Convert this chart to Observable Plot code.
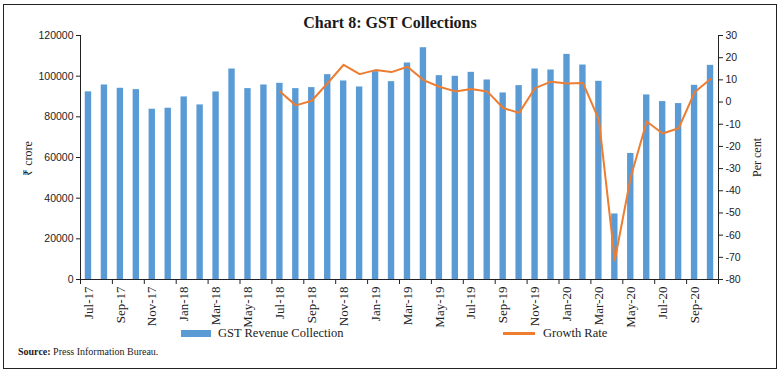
<!DOCTYPE html>
<html><head><meta charset="utf-8">
<script src="https://cdn.jsdelivr.net/npm/d3@7"></script>
<script src="https://cdn.jsdelivr.net/npm/@observablehq/plot@0.6"></script>
<style>
body{margin:0;background:#fff;}
#wrap{position:relative;width:780px;height:372px;overflow:hidden;background:#fff;}
.abs{position:absolute;}
#border{left:3px;top:4px;width:774px;height:365px;border:1px solid #222;box-sizing:border-box;}
#title{left:0;top:14px;width:780px;text-align:center;font:bold 16px "Liberation Serif",serif;color:#1a1a1a;}
.ytitle{font:12px "Liberation Serif",serif;color:#222;transform:rotate(-90deg);transform-origin:center center;white-space:nowrap;width:80px;text-align:center;}
#lt{left:-13px;top:150px;}
#rt{left:717px;top:150px;}
.leg{font:12.5px "Liberation Serif",serif;color:#222;white-space:nowrap;}
#sw1{left:181px;top:330px;width:30px;height:7px;background:#5B9BD5;}
#lg1{left:218px;top:326px;}
#sw2{left:503px;top:332px;width:32px;height:3px;background:#ED7D31;}
#lg2{left:543px;top:326px;}
#src{left:18px;top:346px;font:10px "Liberation Serif",serif;color:#222;white-space:nowrap;}
#p1,#p2{left:0;top:0;}
</style></head><body>
<div id="wrap">
  <div id="p1" class="abs"></div>
  <div id="p2" class="abs"></div>
  <div id="border" class="abs"></div>
  <div id="title" class="abs">Chart 8: GST Collections</div>
  <div id="lt" class="abs ytitle">₹ crore</div>
  <div id="rt" class="abs ytitle">Per cent</div>
  <div id="sw1" class="abs"></div>
  <div id="lg1" class="abs leg">GST Revenue Collection</div>
  <div id="sw2" class="abs"></div>
  <div id="lg2" class="abs leg">Growth Rate</div>
  <div id="src" class="abs"><b>Source:</b> Press Information Bureau.</div>
</div>
<script>
const months = ["Jul-17","Aug-17","Sep-17","Oct-17","Nov-17","Dec-17",
  "Jan-18","Feb-18","Mar-18","Apr-18","May-18","Jun-18","Jul-18","Aug-18","Sep-18","Oct-18","Nov-18","Dec-18",
  "Jan-19","Feb-19","Mar-19","Apr-19","May-19","Jun-19","Jul-19","Aug-19","Sep-19","Oct-19","Nov-19","Dec-19",
  "Jan-20","Feb-20","Mar-20","Apr-20","May-20","Jun-20","Jul-20","Aug-20","Sep-20","Oct-20"];
const gstRevenue = [92280, 95670, 94040, 93390, 83740, 84230, 89790, 85860, 92240, 103520, 93880, 95670,
  96490, 93880, 94370, 100740, 97640, 94690, 102210, 97310, 106470, 113990, 100250, 99930,
  101890, 98130, 91750, 95350, 103520, 103030, 110720, 105480, 97470, 32240, 61990, 90770,
  87500, 86520, 95510, 105320];
const growthMonths = months.slice(12);
const growthRate = [4.8, -1.5, 0.6, 8.6, 16.8, 12.6, 14.4, 13.5, 15.9, 9.9, 6.9, 4.8, 5.9, 4.8,
  -2.7, -4.9, 6.3, 9.2, 8.4, 8.6, -7.9, -71.3, -33.8, -8.8, -14.2, -11.8, 4.4, 10.4];
const leftTicks = [0, 20000, 40000, 60000, 80000, 100000, 120000];
const rightTicks = [-80, -70, -60, -50, -40, -30, -20, -10, 0, 10, 20, 30];
const labeledMonths = months.filter((d, i) => i % 2 === 0);

const W = 780, H = 372, ML = 80, MR = 62, MT = 35, MB = 93;
const halfStep = (W - ML - MR) / months.length / 2;
const axisColor = "#222";
const common = {
  width: W, height: H, marginLeft: ML, marginRight: MR, marginTop: MT, marginBottom: MB,
  style: {background: "transparent", fontFamily: "'Liberation Sans', sans-serif", fontSize: "10.5px", color: "#222", overflow: "visible"}
};
const xOpts = {type: "band", domain: months, paddingInner: 0.6, paddingOuter: 0.3, axis: null, label: null};

const bars = gstRevenue.map((v, i) => ({month: months[i], value: v}));
const growth = growthRate.map((v, i) => ({month: growthMonths[i], value: v}));

const chart1 = Plot.plot({
  ...common,
  x: xOpts,
  y: {domain: [0, 120000], axis: null, label: null},
  marks: [
    Plot.barY(bars, {x: "month", y: "value", fill: "#5B9BD5"}),
    Plot.ruleY([0], {stroke: axisColor}),
    Plot.ruleX([months[0]], {dx: -halfStep, stroke: axisColor}),
    Plot.axisX(labeledMonths, {tickSize: 5, tickFormat: () => "", dx: -halfStep, label: null, stroke: axisColor}),
    Plot.axisX([months[months.length - 1]], {tickSize: 5, tickFormat: () => "", dx: halfStep, label: null, stroke: axisColor}),
    Plot.axisX(labeledMonths, {tickSize: 0, tickRotate: -90, tickPadding: 7, label: null,
      fontFamily: "'Liberation Serif', serif", fontSize: 13, fill: "#222"}),
    Plot.axisY(leftTicks, {tickSize: 4, tickPadding: 3, tickFormat: d3.format("d"), label: null, stroke: axisColor, fill: "#222"})
  ]
});
document.getElementById("p1").appendChild(chart1);

const chart2 = Plot.plot({
  ...common,
  x: xOpts,
  y: {domain: [-80, 30], axis: null, label: null},
  marks: [
    Plot.line(growth, {x: "month", y: "value", stroke: "#ED7D31", strokeWidth: 2}),
    Plot.ruleX([months[months.length - 1]], {dx: halfStep, stroke: axisColor}),
    Plot.axisY(rightTicks, {anchor: "right", tickSize: 4, tickPadding: 3, tickFormat: d => String(d), label: null, stroke: axisColor, fill: "#222"})
  ]
});
document.getElementById("p2").appendChild(chart2);
</script>
</body></html>
